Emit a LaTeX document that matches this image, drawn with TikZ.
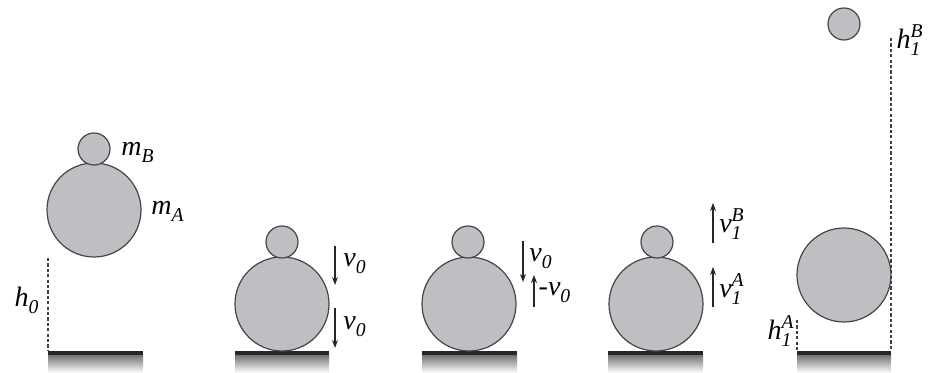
\documentclass[tikz,border=0pt]{standalone}
\usepackage{amsmath}
\usepackage{fontspec}
\setmainfont{Liberation Serif}
\usepackage{tikz}
\usetikzlibrary{arrows.meta}
\definecolor{BallGray}{RGB}{190,191,195}
\definecolor{RimGray}{RGB}{70,70,70}
% italic symbol with sub- and superscript, in the text font
\newcommand{\qsym}[3]{\textit{#1}$_{\textit{#2}}^{\textit{#3}}$}

\begin{document}
\begin{tikzpicture}[x=0.5pt, y=-0.5pt,
    bigball/.style={circle, draw=RimGray, fill=BallGray, line width=0.6pt,
                    minimum size=47pt, inner sep=0pt},
    smallball/.style={circle, draw=RimGray, fill=BallGray, line width=0.6pt,
                      minimum size=16pt, inner sep=0pt},
    lbl/.style={inner sep=0pt, font=\fontsize{14}{16}\selectfont},
    vel/.style={-{Stealth[length=4pt, width=3pt]}, line width=0.7pt, black!85},
    hgt/.style={draw=black!75, line width=0.8pt, dash pattern=on 1.6pt off 1.1pt}
  ]
  \useasboundingbox (0,0) rectangle (934,373);

  % floors
  \foreach \xa/\xb/\fn in {48/143/fa, 235/329/fb, 422/517/fc, 608/703/fd, 797/891/fe} {
    \shade[top color=black!55, bottom color=white] (\xa,355) rectangle (\xb,373);
    \fill[black!85] (\xa,351) rectangle (\xb,355);
    \coordinate (\fn-l) at (\xa,351);
    \coordinate (\fn-r) at (\xb,351);
  }

  % dropped from h_0
  \node[bigball] (a1) at (94,210) {};
  \node[smallball] (b1) at (94,149) {};
  \node[lbl] (mb) at (138,152) {\qsym{m}{B}{}};
  \node[lbl] (ma) at (168,211) {\qsym{m}{A}{}};
  \coordinate (h0top) at (48,258);
  \draw[hgt] (h0top) -- (fa-l);
  \node[lbl] (h0) at (27,300) {\qsym{h}{0}{}};

  % just before impact
  \node[bigball] (a2) at (282,304) {};
  \node[smallball] (b2) at (282,242) {};
  \coordinate (v2a) at (335,246); \coordinate (v2b) at (335,285);
  \coordinate (v2c) at (335,308); \coordinate (v2d) at (335,348);
  \draw[vel] (v2a) -- (v2b);
  \draw[vel] (v2c) -- (v2d);
  \node[lbl] (v2u) at (355,264) {\qsym{v}{0}{}};
  \node[lbl] (v2l) at (355,327) {\qsym{v}{0}{}};

  % A bounces off the floor
  \node[bigball] (a3) at (469,304) {};
  \node[smallball] (b3) at (468,242) {};
  \coordinate (v3a) at (523,241); \coordinate (v3b) at (523,282);
  \coordinate (v3c) at (534,307); \coordinate (v3d) at (534,275);
  \draw[vel] (v3a) -- (v3b);
  \draw[vel] (v3c) -- (v3d);
  \node[lbl] (v3u) at (541,259) {\qsym{v}{0}{}};
  \node[lbl] (v3l) at (555,293) {\qsym{-v}{0}{}};

  % after the collision
  \node[bigball] (a4) at (656,304) {};
  \node[smallball] (b4) at (657,242) {};
  \coordinate (v4a) at (713,243); \coordinate (v4b) at (713,203);
  \coordinate (v4c) at (713,307); \coordinate (v4d) at (713,267);
  \draw[vel] (v4a) -- (v4b);
  \draw[vel] (v4c) -- (v4d);
  \node[lbl] (v4u) at (732,224) {\qsym{v}{1}{B}};
  \node[lbl] (v4l) at (732,289) {\qsym{v}{1}{A}};

  % heights reached
  \node[bigball] (a5) at (844,275) {};
  \node[smallball] (b5) at (844,24) {};
  \coordinate (h1btop) at (891,38);
  \coordinate (h1atop) at (797,320);
  \draw[hgt] (h1btop) -- (fe-r);
  \draw[hgt] (h1atop) -- (fe-l);
  \node[lbl] (h1b) at (910,40) {\qsym{h}{1}{B}};
  \node[lbl] (h1a) at (781,331) {\qsym{h}{1}{A}};
\end{tikzpicture}
\end{document}
